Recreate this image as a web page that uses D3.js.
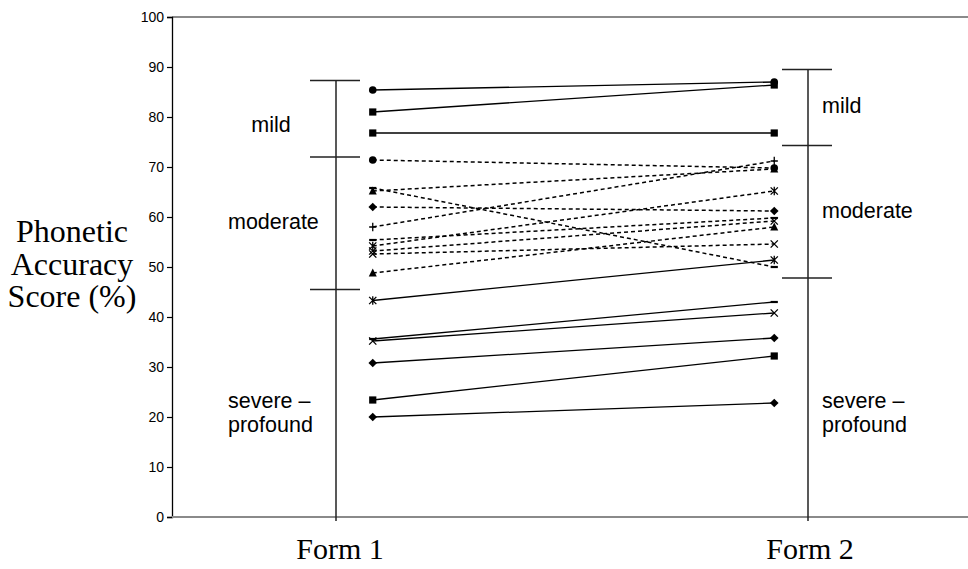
<!DOCTYPE html>
<html>
<head>
<meta charset="utf-8">
<script src="https://cdn.jsdelivr.net/npm/d3@7"></script>
<style>
  html, body { margin: 0; padding: 0; background: #fff; }
  svg { display: block; }
</style>
</head>
<body>
<svg id="chart" width="968" height="569"></svg>
<script>
// Test forms on the category axis
const forms = ["Form 1", "Form 2"];

// Per-child scores: [Form 1, Form 2], with marker symbol and line style
const solidScores = [
  [85.4, 87.0], [81.0, 86.4], [76.8, 76.8], [43.3, 51.4],
  [35.6, 43.0], [35.2, 40.8], [30.8, 35.8], [23.4, 32.2], [20.0, 22.8]
];
const solidMarkers = ["circle", "square", "square", "asterisk",
  "dash", "cross", "diamond", "square", "diamond"];

const dottedScores = [
  [71.4, 69.8], [65.2, 69.6], [65.8, 50.0], [62.0, 61.2], [58.0, 71.2],
  [55.4, 59.8], [54.2, 65.2], [53.2, 59.2], [52.6, 54.6], [48.8, 58.0]
];
const dottedMarkers = ["circle", "triangle", "dash", "diamond", "plus",
  "dash", "asterisk", "cross", "cross", "triangle"];

// Severity band boundaries for each form: bottom, severe/moderate, moderate/mild, top
const form1Bands = [0, 45.5, 72.0, 87.3];
const form2Bands = [0, 47.8, 74.3, 89.5];
const bandLabels = [["severe –", "profound"], ["moderate"], ["mild"]];

const yTicks = [0, 10, 20, 30, 40, 50, 60, 70, 80, 90, 100];

const svg = d3.select("#chart");
const plotLeft = 172, plotRight = 975, plotTop = 17, plotBottom = 517;
const sans = "Liberation Sans, Arial, sans-serif";
const serif = "Liberation Serif, Times New Roman, serif";

const y = d3.scaleLinear().domain([0, 100]).range([plotBottom, plotTop]);
const x = d3.scaleBand().domain(forms).range([plotLeft, plotRight]).padding(0);
const cx = f => x(f) + x.bandwidth() / 2;

// Top frame line (grey)
svg.append("line").attr("x1", plotLeft).attr("x2", 968)
  .attr("y1", y(100)).attr("y2", y(100))
  .attr("stroke", "#8a8a8a").attr("stroke-width", 2);

// Y axis
const yAxis = d3.axisLeft(y).tickValues(yTicks).tickSize(5).tickPadding(3);
const gy = svg.append("g").attr("transform", `translate(${plotLeft},0)`).call(yAxis);
gy.select(".domain").attr("stroke", "#000").attr("stroke-width", 1.3);
gy.selectAll(".tick line").attr("stroke", "#000").attr("stroke-width", 1.2);
gy.selectAll(".tick text").attr("font-family", sans)
  .attr("font-size", 14).attr("fill", "#000");

// Bottom category axis line (grey)
svg.append("line").attr("x1", plotLeft).attr("x2", 968)
  .attr("y1", y(0)).attr("y2", y(0))
  .attr("stroke", "#8a8a8a").attr("stroke-width", 2);

// Category labels
svg.selectAll("text.form").data(forms).enter().append("text")
  .attr("class", "form")
  .attr("x", (d, i) => i === 0 ? 340 : 810)
  .attr("y", 559)
  .attr("text-anchor", "middle")
  .attr("font-family", serif)
  .attr("font-size", 30)
  .text(d => d);

// Y axis title
const title = svg.append("text")
  .attr("text-anchor", "middle")
  .attr("font-family", serif)
  .attr("font-size", 32);
["Phonetic", "Accuracy", "Score (%)"].forEach((t, i) => {
  title.append("tspan").attr("x", 72).attr("y", 242 + i * 32.5).text(t);
});

// Severity range bars
function drawBands(bands, barX) {
  const g = svg.append("g");
  g.append("line").attr("x1", barX).attr("x2", barX)
    .attr("y1", y(bands[0]) + 4).attr("y2", y(bands[3]))
    .attr("stroke", "#222").attr("stroke-width", 1.5);
  bands.slice(1).forEach(v => {
    g.append("line").attr("x1", barX - 26).attr("x2", barX + 24)
      .attr("y1", y(v)).attr("y2", y(v))
      .attr("stroke", "#222").attr("stroke-width", 1.5);
  });
  return g;
}
const lab = (g, txt, xx, yy, anchor) => g.append("text")
  .attr("x", xx).attr("y", yy).attr("text-anchor", anchor || "start")
  .attr("font-family", sans)
  .attr("font-size", 21.5).attr("fill", "#000").text(txt);

const g1 = drawBands(form1Bands, 336);
lab(g1, bandLabels[2][0], 271, 132, "middle");
lab(g1, bandLabels[1][0], 228, 229);
lab(g1, bandLabels[0][0], 228, 408);
lab(g1, bandLabels[0][1], 228, 432);

const g2 = drawBands(form2Bands, 808);
lab(g2, bandLabels[2][0], 822, 113);
lab(g2, bandLabels[1][0], 822, 218);
lab(g2, bandLabels[0][0], 822, 408);
lab(g2, bandLabels[0][1], 822, 432);

// Marker glyphs
function marker(g, type, px, py) {
  const s = 3.6;
  const strokeIt = sel => sel.attr("stroke", "#000").attr("stroke-width", 1.3).attr("fill", "none");
  switch (type) {
    case "circle":
      g.append("circle").attr("cx", px).attr("cy", py).attr("r", 3.8).attr("fill", "#000"); break;
    case "square":
      g.append("rect").attr("x", px - s).attr("y", py - s).attr("width", 2 * s).attr("height", 2 * s).attr("fill", "#000"); break;
    case "diamond":
      g.append("path").attr("d", `M${px},${py - 4.3}L${px + 4.3},${py}L${px},${py + 4.3}L${px - 4.3},${py}Z`).attr("fill", "#000"); break;
    case "triangle":
      g.append("path").attr("d", `M${px},${py - 4.5}L${px + 4},${py + 3.5}L${px - 4},${py + 3.5}Z`).attr("fill", "#000"); break;
    case "cross":
      strokeIt(g.append("path").attr("d", `M${px - s},${py - s}L${px + s},${py + s}M${px - s},${py + s}L${px + s},${py - s}`)); break;
    case "asterisk":
      strokeIt(g.append("path").attr("d", `M${px - s},${py - s}L${px + s},${py + s}M${px - s},${py + s}L${px + s},${py - s}M${px},${py - 4.2}L${px},${py + 4.2}`)); break;
    case "plus":
      strokeIt(g.append("path").attr("d", `M${px - s},${py}L${px + s},${py}M${px},${py - 4.2}L${px},${py + 4.2}`)); break;
    case "dash":
      strokeIt(g.append("path").attr("d", `M${px - s},${py}L${px + s},${py}`)).attr("stroke-width", 2.2); break;
  }
}

// Lines joining each child's two scores
function drawSeries(scores, markers, dashed) {
  const g = svg.append("g");
  const line = d3.line().x((d, i) => cx(forms[i])).y(d => y(d));
  scores.forEach((s, k) => {
    g.append("path").attr("d", line(s)).attr("fill", "none")
      .attr("stroke", "#000").attr("stroke-width", dashed ? 1.5 : 1.3)
      .attr("stroke-dasharray", dashed ? "4,3" : null);
    s.forEach((v, i) => marker(g, markers[k], cx(forms[i]), y(v)));
  });
}
drawSeries(dottedScores, dottedMarkers, true);
drawSeries(solidScores, solidMarkers, false);
</script>
</body>
</html>
